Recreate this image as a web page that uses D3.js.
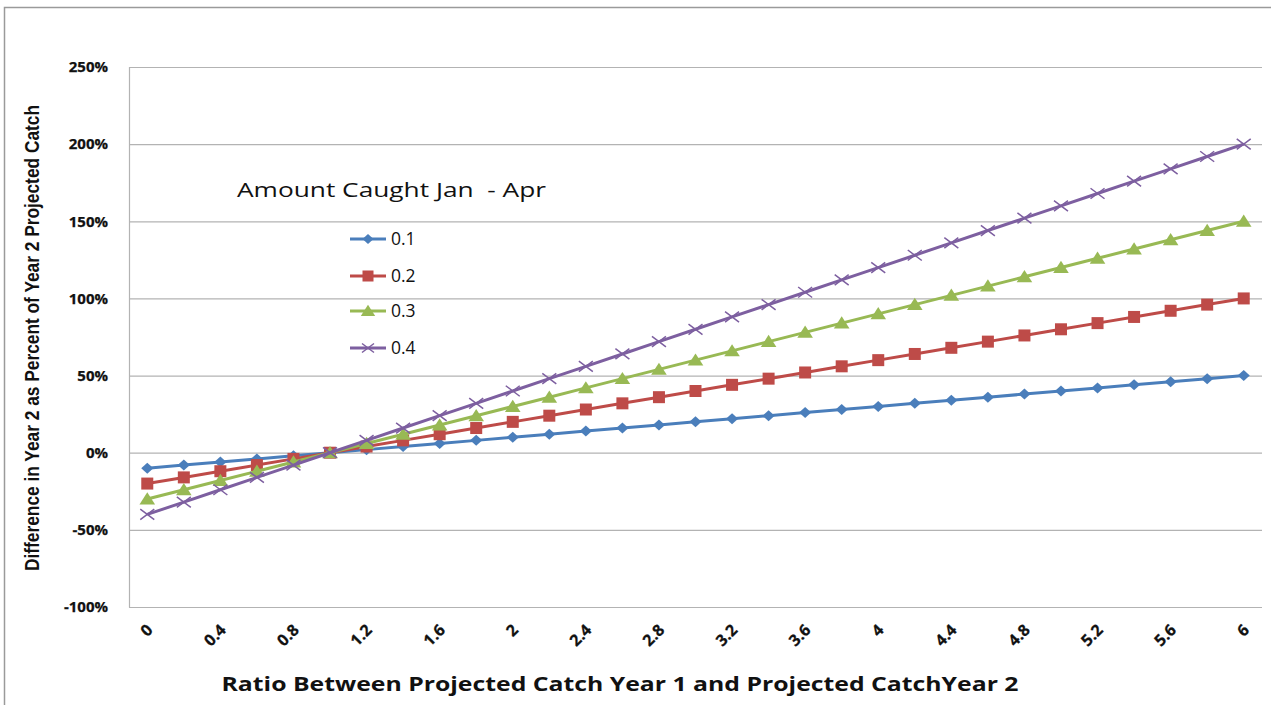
<!DOCTYPE html>
<html><head><meta charset="utf-8">
<script src="https://cdn.jsdelivr.net/npm/d3@7/dist/d3.min.js"></script>
<style>body{margin:0;background:#fff}svg{display:block}</style>
</head><body>
<svg id="chart" width="1271" height="705"></svg>
<script>
const categories = ["0","0.2","0.4","0.6","0.8","1","1.2","1.4","1.6","1.8","2","2.2","2.4","2.6","2.8","3","3.2","3.4","3.6","3.8","4","4.2","4.4","4.6","4.8","5","5.2","5.4","5.6","5.8","6"];
const tickLabels = ["0","0.4","0.8","1.2","1.6","2","2.4","2.8","3.2","3.6","4","4.4","4.8","5.2","5.6","6"];
const yTicks = [-100,-50,0,50,100,150,200,250];
const seriesNames = ["0.1","0.2","0.3","0.4"];
const s01 = [-10,-8,-6,-4,-2,0,2,4,6,8,10,12,14,16,18,20,22,24,26,28,30,32,34,36,38,40,42,44,46,48,50];
const s02 = [-20,-16,-12,-8,-4,0,4,8,12,16,20,24,28,32,36,40,44,48,52,56,60,64,68,72,76,80,84,88,92,96,100];
const s03 = [-30,-24,-18,-12,-6,0,6,12,18,24,30,36,42,48,54,60,66,72,78,84,90,96,102,108,114,120,126,132,138,144,150];
const s04 = [-40,-32,-24,-16,-8,0,8,16,24,32,40,48,56,64,72,80,88,96,104,112,120,128,136,144,152,160,168,176,184,192,200];
const colors = ["#4A7EBB","#BE4B48","#98B954","#7D5FA0"];
const symbols = ["diamond","square","triangle","cross"];

const svg = d3.select("#chart");
const L = 129, R = 1262, T = 67, B = 607;
svg.append("path").attr("d","M4.5,705 V7.5 H1271").attr("fill","none").attr("stroke","#9a9a9a").attr("stroke-width",1.5);

const x = d3.scalePoint().domain(categories).range([L, R]).padding(0.5);
const y = d3.scaleLinear().domain([-100,250]).range([B, T]);

svg.append("g").selectAll("line").data(yTicks).join("line")
  .attr("x1", L).attr("x2", R).attr("y1", d=>y(d)+0.5).attr("y2", d=>y(d)+0.5)
  .attr("stroke","#b3b3b3").attr("stroke-width",1.2);
svg.append("line").attr("x1",L+0.5).attr("x2",L+0.5).attr("y1",T).attr("y2",B+0.5).attr("stroke","#b3b3b3").attr("stroke-width",1.2);

const yAxis = d3.axisLeft(y).tickValues(yTicks).tickFormat(d=>d+"%").tickSize(0).tickPadding(21);
const gy = svg.append("g").attr("transform",`translate(${L},0)`).call(yAxis);
gy.select(".domain").remove();
gy.selectAll("text").attr("font-family","'Open Sans', sans-serif").attr("font-weight","bold").attr("font-size",15)
  .attr("fill","#111").attr("stroke","#111").attr("stroke-width",0.25);

const xAxis = d3.axisBottom(x).tickValues(tickLabels).tickSize(0).tickPadding(0);
const gx = svg.append("g").attr("transform",`translate(0,${B})`).call(xAxis);
gx.select(".domain").remove();
gx.selectAll("text").attr("font-family","'Open Sans', sans-serif").attr("font-weight","bold").attr("font-size",16)
  .attr("fill","#111").attr("stroke","#111").attr("stroke-width",0.25).attr("text-anchor","end").attr("dy",null).attr("y",null)
  .attr("transform","translate(6,24) rotate(-45)");

const data = [s01,s02,s03,s04];
const line = d3.line().x((d,i)=>x(categories[i])).y(d=>y(d));
function drawMarker(g, type, color, size){
  if(type==="diamond"){
    const s=size/2;
    g.append("path").attr("d",`M0,${-s}L${s*1.1},0L0,${s}L${-s*1.1},0Z`).attr("fill",color);
  } else if(type==="square"){
    g.append("rect").attr("x",-size/2).attr("y",-size/2).attr("width",size).attr("height",size).attr("fill",color);
  } else if(type==="triangle"){
    const h=size;
    g.append("path").attr("d",`M0,${-h*0.52}L${h*0.6},${h*0.42}L${-h*0.6},${h*0.42}Z`).attr("fill",color);
  } else {
    const s=size/2;
    g.append("path").attr("d",`M${-s},${-s*0.75}L${s},${s*0.75}M${-s},${s*0.75}L${s},${-s*0.75}`).attr("stroke",color).attr("stroke-width",1.5).attr("fill","none");
  }
}
const markerSizes=[11,12,13,14];
data.forEach((vals,k)=>{
  const g = svg.append("g");
  g.append("path").datum(vals).attr("d",line).attr("fill","none").attr("stroke",colors[k]).attr("stroke-width",3);
  vals.forEach((v,i)=>{
    const m = g.append("g").attr("transform",`translate(${x(categories[i])},${y(v)})`);
    drawMarker(m, symbols[k], colors[k], markerSizes[k]);
  });
});

svg.append("text").attr("x",237).attr("y",197).attr("font-family","'Open Sans', sans-serif").attr("font-size",20)
  .attr("fill","#111").attr("textLength",309).attr("lengthAdjust","spacingAndGlyphs").attr("xml:space","preserve").text("Amount Caught Jan  - Apr");
const legY=[239,276,311,348];
seriesNames.forEach((n,k)=>{
  const g=svg.append("g");
  g.append("line").attr("x1",350).attr("x2",386).attr("y1",legY[k]).attr("y2",legY[k]).attr("stroke",colors[k]).attr("stroke-width",3);
  const m=g.append("g").attr("transform",`translate(368,${legY[k]})`);
  drawMarker(m, symbols[k], colors[k], k===3?12:markerSizes[k]-1);
  g.append("text").attr("x",391).attr("y",legY[k]+6).attr("font-family","'Open Sans', sans-serif").attr("font-size",17.5).attr("fill","#111").text(n);
});

svg.append("text").attr("transform","translate(39,338) rotate(-90)").attr("text-anchor","middle")
  .attr("font-family","'Liberation Sans Narrow','Liberation Sans', sans-serif").attr("font-weight","bold").attr("font-size",21)
  .attr("textLength",466).attr("lengthAdjust","spacingAndGlyphs").attr("fill","#111")
  .text("Difference in Year 2 as Percent of Year 2 Projected  Catch");
svg.append("text").attr("x",620).attr("y",691).attr("text-anchor","middle")
  .attr("font-family","'Open Sans', sans-serif").attr("font-weight","bold").attr("font-size",19.5)
  .attr("textLength",797).attr("lengthAdjust","spacingAndGlyphs").attr("fill","#111")
  .text("Ratio Between Projected Catch Year 1 and Projected CatchYear 2");
</script>
</body></html>
